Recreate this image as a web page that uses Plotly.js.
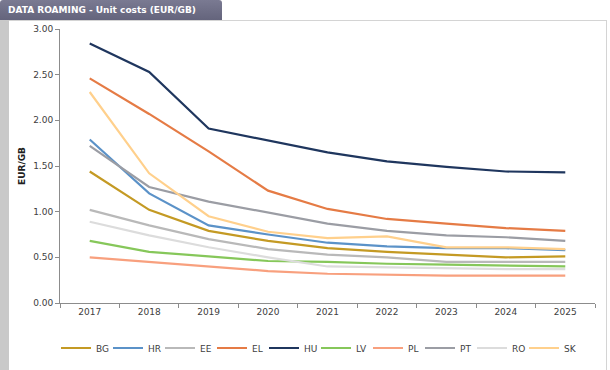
<!DOCTYPE html>
<html>
<head>
<meta charset="utf-8">
<script src="https://cdn.plot.ly/plotly-3.0.1.min.js"></script>
<style>
  html, body { margin: 0; padding: 0; background: #ffffff; }
  #wrap { position: relative; width: 610px; height: 370px; overflow: hidden; background: #fff; }
  #leftbar { position: absolute; left: 0; top: 20px; width: 9px; height: 350px; background: #C9C9C9; }
  #frame { position: absolute; left: 9px; top: 20px; width: 597px; height: 349px; border-top: 1px solid #D4D4D4; border-right: 1px solid #D4D4D4; }
  #header { position: absolute; left: 0; top: 0; width: 222px; height: 20px; background: linear-gradient(#7A7A92, #64647C); border-radius: 3px 3px 0 0;
            color: #fff; font-family: "DejaVu Sans", Verdana, sans-serif; font-weight: bold; font-size: 9px; line-height: 20px; padding-left: 8px; box-sizing: border-box; white-space: nowrap; }
  #chart { position: absolute; left: 0; top: 0; width: 610px; height: 370px; }
</style>
</head>
<body>
<div id="wrap">
  <div id="leftbar"></div>
  <div id="frame"></div>
  <div id="header">DATA ROAMING - Unit costs (EUR/GB)</div>
  <div id="chart"></div>
</div>
<script>
const years = ["2017","2018","2019","2020","2021","2022","2023","2024","2025"];
const yTickVals = [0, 0.5, 1, 1.5, 2, 2.5, 3];
const yTickText = ["0.00","0.50","1.00","1.50","2.00","2.50","3.00"];

const BG = [1.44, 1.02, 0.79, 0.68, 0.60, 0.56, 0.53, 0.50, 0.51];
const HR = [1.79, 1.20, 0.85, 0.75, 0.66, 0.62, 0.60, 0.60, 0.58];
const EE = [1.02, 0.85, 0.70, 0.59, 0.53, 0.50, 0.45, 0.45, 0.45];
const EL = [2.46, 2.07, 1.66, 1.23, 1.03, 0.92, 0.87, 0.82, 0.79];
const HU = [2.84, 2.53, 1.91, 1.78, 1.65, 1.55, 1.49, 1.44, 1.43];
const LV = [0.68, 0.56, 0.51, 0.46, 0.45, 0.43, 0.42, 0.41, 0.40];
const PL = [0.50, 0.45, 0.40, 0.35, 0.32, 0.31, 0.30, 0.30, 0.30];
const PT = [1.72, 1.27, 1.11, 0.99, 0.87, 0.79, 0.74, 0.72, 0.68];
const RO = [0.89, 0.74, 0.61, 0.50, 0.40, 0.39, 0.38, 0.37, 0.37];
const SK = [2.31, 1.42, 0.95, 0.78, 0.71, 0.73, 0.61, 0.61, 0.59];

const seriesNames = ["BG","HR","EE","EL","HU","LV","PL","PT","RO","SK"];
const seriesData = [BG, HR, EE, EL, HU, LV, PL, PT, RO, SK];
const seriesColors = ["#C49A24","#5B92C8","#B9B9B9","#E57B45","#1F365E","#86C75A","#F8A07E","#9B9DA4","#DCDCDC","#FFD08C"];

const traces = seriesNames.map((n, i) => ({
  type: "scatter",
  mode: "lines",
  name: n,
  x: years,
  y: seriesData[i],
  line: { color: seriesColors[i], width: 2.2 },
  hoverinfo: "x+y+name"
}));

const layout = {
  width: 610,
  height: 370,
  paper_bgcolor: "rgba(0,0,0,0)",
  plot_bgcolor: "rgba(0,0,0,0)",
  margin: { l: 60, r: 15, t: 29, b: 67 },
  font: { family: "DejaVu Sans, Verdana, sans-serif", size: 9, color: "#404040" },
  showlegend: true,
  legend: {
    orientation: "h",
    xref: "container", yref: "container",
    x: 0.0918, xanchor: "left",
    y: 0.0595, yanchor: "middle",
    entrywidth: 7, entrywidthmode: "pixels",
    itemwidth: 30,
    font: { size: 9, color: "#404040" },
    traceorder: "normal",
    bgcolor: "rgba(0,0,0,0)"
  },
  xaxis: {
    type: "category",
    range: [-0.5, 8.5],
    tickson: "boundaries",
    ticks: "outside",
    ticklen: 4,
    tickcolor: "#8C8C8C",
    showline: true,
    linecolor: "#8C8C8C",
    linewidth: 1,
    showgrid: false,
    zeroline: false,
    fixedrange: true
  },
  yaxis: {
    range: [0, 3],
    tickvals: yTickVals,
    ticktext: yTickText,
    ticks: "outside",
    ticklen: 4,
    tickcolor: "#8C8C8C",
    showline: true,
    linecolor: "#8C8C8C",
    linewidth: 1,
    showgrid: false,
    zeroline: false,
    fixedrange: true,
    title: { text: "EUR/GB", font: { size: 9, color: "#202020", weight: "bold" }, standoff: 6 }
  }
};

Plotly.newPlot("chart", traces, layout, { displayModeBar: false, staticPlot: true });
</script>
</body>
</html>
